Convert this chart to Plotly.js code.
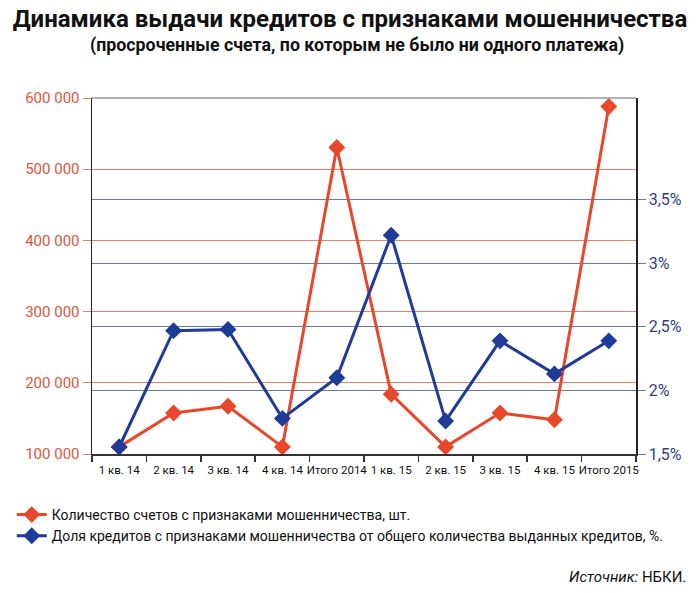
<!DOCTYPE html>
<html>
<head>
<meta charset="utf-8">
<script src="https://cdn.plot.ly/plotly-3.0.1.min.js"></script>
<style>html,body{margin:0;padding:0;background:#fff;}#chart{width:700px;height:593px;}</style>
</head>
<body>
<div id="chart"></div>
<script>
const categories = ['1 кв. 14','2 кв. 14','3 кв. 14','4 кв. 14','Итого 2014','1 кв. 15','2 кв. 15','3 кв. 15','4 кв. 15','Итого 2015'];
const fraudAccounts = [110000, 157500, 167000, 110000, 530500, 184000, 110000, 157500, 148000, 588000];
const fraudShare = [1.555, 2.47, 2.48, 1.78, 2.10, 3.22, 1.76, 2.39, 2.13, 2.39];
const leftTicks = [100000, 200000, 300000, 400000, 500000, 600000];
const rightTickVals = [1.5, 2, 2.5, 3, 3.5];
const rightTickText = ['1,5%', '2%', '2,5%', '3%', '3,5%'];
const seriesNames = ['Количество счетов с признаками мошенничества, шт.', 'Доля кредитов с признаками мошенничества от общего количества выданных кредитов, %.'];

const FONT = 'Roboto, "Liberation Sans", sans-serif';
const RED = '#e8472b';
const BLUE = '#1f3b98';

const traces = [
  {
    x: categories, y: fraudAccounts, name: seriesNames[0], type: 'scatter', mode: 'lines+markers',
    line: {color: RED, width: 3}, marker: {symbol: 'diamond', size: 13, color: RED}, yaxis: 'y'
  },
  {
    x: categories, y: fraudShare, name: seriesNames[1], type: 'scatter', mode: 'lines+markers',
    line: {color: BLUE, width: 3}, marker: {symbol: 'diamond', size: 13, color: BLUE}, yaxis: 'y2'
  }
];

const layout = {
  width: 700, height: 593,
  margin: {l: 80, r: 64, t: 98, b: 139},
  paper_bgcolor: '#fff', plot_bgcolor: '#fff',
  separators: ', ',
  font: {family: FONT, size: 14, color: '#111'},
  showlegend: true,
  title: {
    text: '<b>Динамика выдачи кредитов с признаками мошенничества</b>',
    font: {family: FONT, size: 24, color: '#111'},
    xref: 'container', x: 0.5, xanchor: 'center',
    yref: 'container', y: 1 - 19/593, yanchor: 'middle'
  },
  annotations: [
    {
      text: '<b>(просроченные счета, по которым не было ни одного платежа)</b>',
      xref: 'paper', yref: 'paper', x: (351 - 80)/556, y: (454 - 45)/356,
      xanchor: 'center', yanchor: 'middle', showarrow: false,
      font: {family: FONT, size: 17.8, color: '#111'}
    },
    {
      text: '<i>Источник:</i> НБКИ.',
      xref: 'paper', yref: 'paper', x: (689 - 80)/556, y: (454 - 577)/356,
      xanchor: 'right', yanchor: 'middle', showarrow: false,
      font: {family: FONT, size: 15, color: '#111'}
    }
  ],
  shapes: [
    {type: 'line', xref: 'paper', yref: 'paper', x0: 0, x1: 1, y0: 1, y1: 1, line: {color: '#9a9a9a', width: 1.5}}
  ],
  xaxis: {
    type: 'category', range: [-0.5, 9.5],
    showline: true, linecolor: '#333', linewidth: 1.5,
    ticks: 'outside', tickson: 'boundaries', ticklen: 6, tickcolor: '#333', tickwidth: 1.5,
    showgrid: false, zeroline: false, automargin: false, tickangle: 0, ticklabelstandoff: 5,
    tickfont: {family: FONT, size: 11.5, color: '#111'}
  },
  yaxis: {
    range: [100000, 600000], tickvals: leftTicks, tickformat: ',',
    showline: true, linecolor: '#222', linewidth: 1.5,
    ticks: 'outside', ticklen: 8, tickcolor: '#e8806a', tickwidth: 1,
    showgrid: true, gridcolor: '#e8806a', gridwidth: 1, zeroline: false, automargin: false,
    tickfont: {family: FONT, size: 15, color: '#e0553f'}
  },
  yaxis2: {
    overlaying: 'y', side: 'right', range: [1.5, 4.3],
    tickvals: rightTickVals, ticktext: rightTickText,
    showline: true, linecolor: '#222', linewidth: 1.5,
    ticks: 'outside', ticklen: 8, tickcolor: '#6a7aa6', tickwidth: 1,
    showgrid: true, gridcolor: '#6a7aa6', gridwidth: 1, zeroline: false, automargin: false,
    tickfont: {family: FONT, size: 16, color: '#2e3f88'}
  },
  legend: {
    xref: 'paper', yref: 'paper', x: (-2 - 80)/556, y: (454 - 499)/356,
    xanchor: 'left', yanchor: 'top', orientation: 'v',
    bgcolor: 'rgba(0,0,0,0)', font: {family: FONT, size: 14, color: '#111'},
    tracegroupgap: 0, itemwidth: 30
  }
};

Plotly.newPlot('chart', traces, layout, {displayModeBar: false, staticPlot: true});
</script>
</body>
</html>
